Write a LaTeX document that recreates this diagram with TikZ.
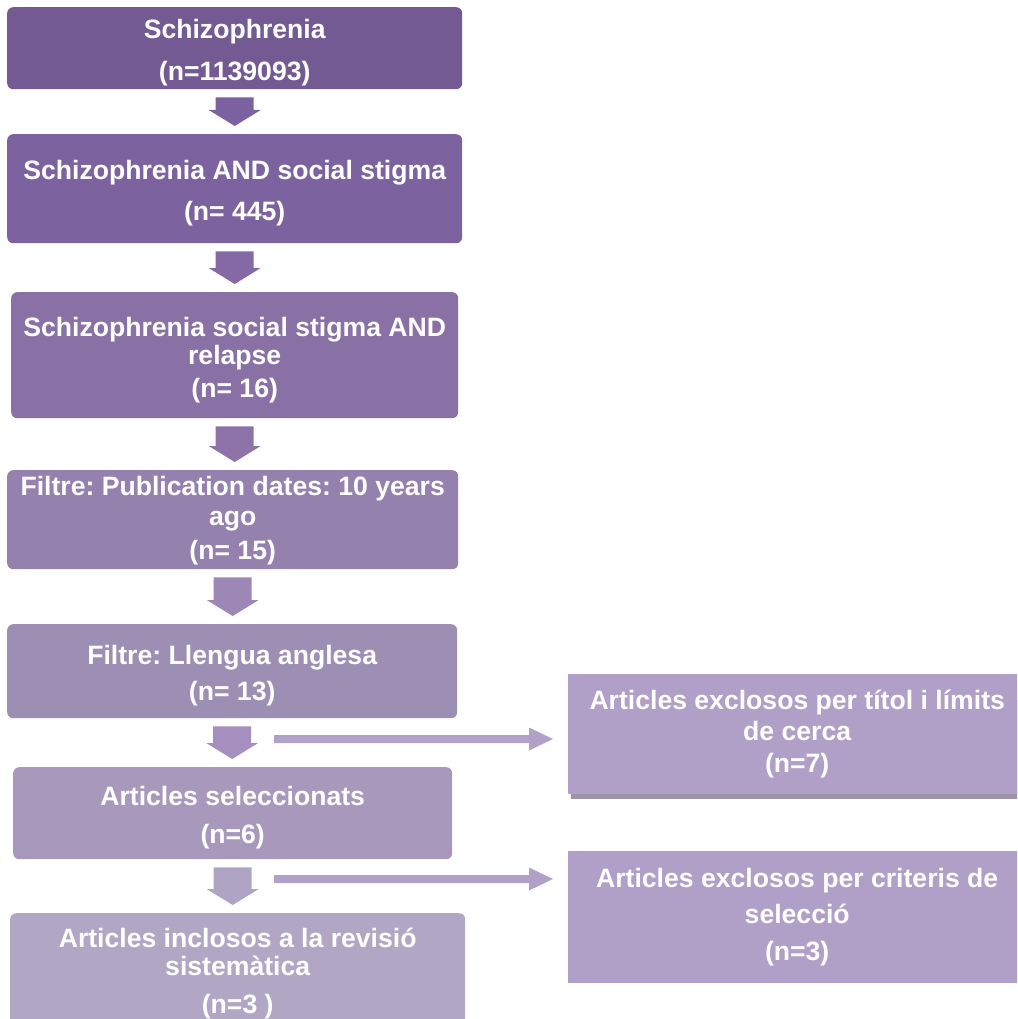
\documentclass[tikz,border=0pt]{standalone}
\usepackage{fontspec}
\setmainfont{Liberation Sans}
\usetikzlibrary{calc}

\definecolor{fillA}{HTML}{735A93}
\definecolor{fillB}{HTML}{7C63A0}
\definecolor{fillC}{HTML}{8970A5}
\definecolor{fillD}{HTML}{9581AE}
\definecolor{fillE}{HTML}{9D8EB4}
\definecolor{fillF}{HTML}{A898BC}
\definecolor{fillG}{HTML}{B1A7C5}
\definecolor{fillR}{HTML}{B09FC7}
\definecolor{arrA}{HTML}{7B61A0}
\definecolor{arrB}{HTML}{8469A5}
\definecolor{arrC}{HTML}{8D73A8}
\definecolor{arrD}{HTML}{9C87B7}
\definecolor{arrE}{HTML}{A48FBE}
\definecolor{arrF}{HTML}{B0A4C4}
\definecolor{arrR}{HTML}{B1A1C8}
\definecolor{shadowgray}{HTML}{9D95A6}

% block arrow pointing down, from the bottom of #1 to the top of #2
\newcommand\stagearrow[3]{%
  \fill[#3] let \p1=($(#1.south)+(0,8)$), \p2=($(#2.north)+(0,-8)$) in
    (\x1-19pt,\y1) -- (\x1+19pt,\y1) -- (\x1+19pt,\y2+16pt) -- (\x1+26pt,\y2+16pt)
    -- (\x1,\y2) -- (\x1-26pt,\y2+16pt) -- (\x1-19pt,\y2+16pt) -- cycle;}

% block arrow pointing right, from coordinate #1 towards node #2
\newcommand\sidearrow[3]{%
  \fill[#3] let \p1=(#1), \p2=($(#1 -| #2.west)+(-15,0)$) in
    (\x1,\y1+4pt) -- (\x2-24pt,\y1+4pt) -- (\x2-24pt,\y1+11.5pt) -- (\x2,\y1)
    -- (\x2-24pt,\y1-11.5pt) -- (\x2-24pt,\y1-4pt) -- (\x1,\y1-4pt) -- cycle;}

\begin{document}
\frenchspacing
\begin{tikzpicture}[x=1pt,y=-1pt,
  stage/.style={fill=#1, draw=none, rounded corners=6pt,
    anchor=north west, inner sep=0pt},
  excluded/.style={stage=fillR, rounded corners=0pt},
  caption/.style={text=white, font=\bfseries\fontsize{26.6}{28}\selectfont,
    align=center, inner sep=0pt}]
\useasboundingbox (0,0) rectangle (1017,1019);
\clip (0,0) rectangle (1017,1019);

% main chain of search steps
\node[stage=fillA, minimum width=455, minimum height=82]  (b1) at (7,7) {};
\node[stage=fillB, minimum width=455, minimum height=109] (b2) at (7,134) {};
\node[stage=fillC, minimum width=447, minimum height=126] (b3) at (11,292) {};
\node[stage=fillD, minimum width=451, minimum height=99]  (b4) at (7,470) {};
\node[stage=fillE, minimum width=450, minimum height=94]  (b5) at (7,624) {};
\node[stage=fillF, minimum width=439, minimum height=92]  (b6) at (13,767) {};
\node[stage=fillG, minimum width=455, minimum height=115] (b7) at (10,913) {};

\node[caption] (t1) at ($(b1.center)+(0,4)$) {Schizophrenia\\[14pt](n=1139093)};
\node[caption] (t2) at ($(b2.center)+(0,4)$) {Schizophrenia AND social stigma\\[13pt](n= 445)};
\node[caption] (t3) at ($(b3.center)+(0,5)$) {Schizophrenia social stigma AND\\relapse\\[5pt](n= 16)};
\node[caption] (t4) at ($(b4.center)+(0,1)$) {Filtre: Publication dates: 10 years\\[2pt]ago\\[6pt](n= 15)};
\node[caption] (t5) at ($(b5.center)+(0,4)$) {Filtre: Llengua anglesa\\[8pt](n= 13)};
\node[caption] (t6) at ($(b6.center)+(0,4)$) {Articles seleccionats\\[10pt](n=6)};
\node[caption] (t7) at ($(b7.center)+(0,2.5)$) {Articles inclosos a la revisió\\sistemàtica\\[10pt](n=3 )};

% excluded articles
\fill[shadowgray] (571,700) rectangle (1026,799);
\node[excluded, minimum width=458, minimum height=120] (r1) at (568,674) {};
\node[excluded, minimum width=458, minimum height=132] (r2) at (568,851) {};
\node[caption] (s1) at (r1.center) {Articles exclosos per títol i límits\\[3pt]de cerca\\[4pt](n=7)};
\node[caption] (s2) at (r2.center) {Articles exclosos per criteris de\\[8pt]selecció\\[9pt](n=3)};

% connectors
\stagearrow{b1}{b2}{arrA}
\stagearrow{b2}{b3}{arrB}
\stagearrow{b3}{b4}{arrC}
\stagearrow{b4}{b5}{arrD}
\stagearrow{b5}{b6}{arrE}
\stagearrow{b6}{b7}{arrF}

\coordinate (x1) at (274,739);
\coordinate (x2) at (274,879);
\sidearrow{x1}{r1}{arrR}
\sidearrow{x2}{r2}{arrR}
\end{tikzpicture}
\end{document}
